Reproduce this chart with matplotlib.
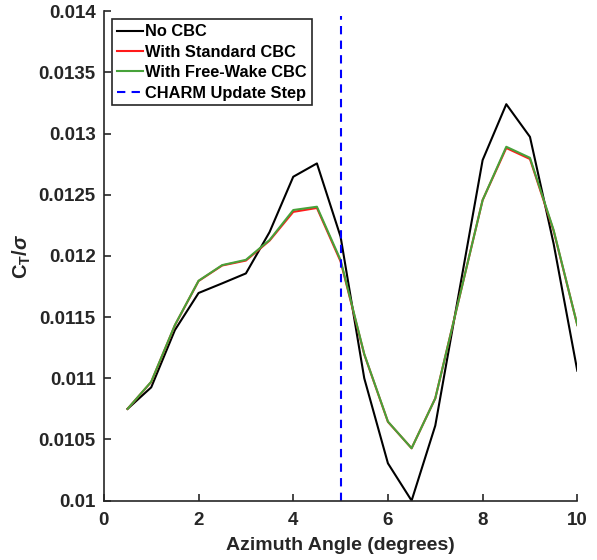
import matplotlib.pyplot as plt
import matplotlib.ticker as mticker

plt.rcParams['font.family'] = ['Liberation Sans', 'DejaVu Sans']
plt.rcParams['font.weight'] = 'bold'
plt.rcParams['mathtext.fontset'] = 'custom'
plt.rcParams['mathtext.rm'] = 'Liberation Sans:bold'
plt.rcParams['mathtext.bf'] = 'Liberation Sans:bold'
plt.rcParams['mathtext.it'] = 'Liberation Sans:italic'

# Azimuth angle (degrees)
azimuth = [0.5, 1.0, 1.5, 2.0, 2.5, 3.0, 3.5, 4.0, 4.5, 5.0,
           5.5, 6.0, 6.5, 7.0, 7.5, 8.0, 8.5, 9.0, 9.5, 10.0]

# CT/sigma values
no_cbc = [0.01075, 0.010926, 0.011394, 0.011697, 0.011776, 0.011857, 0.012195, 0.012647, 0.012756, 0.012157,
          0.011000, 0.010305, 0.010000, 0.010613, 0.011698, 0.012783, 0.013240, 0.012973, 0.012100, 0.011062]
standard_cbc = [0.01075, 0.010970, 0.011433, 0.011795, 0.011922, 0.011962, 0.012125, 0.012360, 0.012392, 0.011955,
                0.011195, 0.010644, 0.010428, 0.010836, 0.011646, 0.012456, 0.012882, 0.012792, 0.012205, 0.011435]
free_wake_cbc = [0.01075, 0.010972, 0.011435, 0.011797, 0.011925, 0.011968, 0.012130, 0.012375, 0.012402, 0.011966,
                 0.011198, 0.010646, 0.010428, 0.010836, 0.011646, 0.012456, 0.012892, 0.012802, 0.012211, 0.011435]
update_step = 5

fig = plt.figure(figsize=(5.97, 5.60), dpi=100)
ax = fig.add_axes([0.174, 0.106, 0.793, 0.874])

ax.plot(azimuth, no_cbc, color='k', lw=1.5, label='No CBC')
ax.plot(azimuth, standard_cbc, color='#ff1a1a', lw=1.5, label='With Standard CBC')
ax.plot(azimuth, free_wake_cbc, color='#47a23a', lw=1.5, label='With Free-Wake CBC')
ax.axvline(update_step, color='#0000ff', lw=1.5, ls=(0, (4, 3)), ymax=0.99, label='CHARM Update Step')

ax.set_xlim(0, 10)
ax.set_ylim(0.01, 0.014)
ax.set_xticks([0, 2, 4, 6, 8, 10])
ax.set_yticks([0.01, 0.0105, 0.011, 0.0115, 0.012, 0.0125, 0.013, 0.0135, 0.014])
ax.yaxis.set_major_formatter(mticker.FormatStrFormatter('%g'))

for s in ['top', 'right']:
    ax.spines[s].set_visible(False)
for s in ['left', 'bottom']:
    ax.spines[s].set_color('#262626')
    ax.spines[s].set_linewidth(1.2)
ax.tick_params(direction='in', length=5, width=1.2, colors='#262626', labelsize=13.5)
ax.tick_params(axis='x', pad=8)
ax.tick_params(axis='y', pad=6)

ax.set_xlabel('Azimuth Angle (degrees)', fontsize=14, fontweight='bold', color='#262626', labelpad=6)
ax.set_ylabel(r'C$_\mathrm{T}$/$\mathit{\sigma}$', fontsize=14.5, fontweight='bold', color='#262626', labelpad=4)

leg = ax.legend(loc='upper left', bbox_to_anchor=(0.01, 0.99), fontsize=11.8, handlelength=1.6,
                handletextpad=0.15, borderpad=0.3, labelspacing=0.33, borderaxespad=0.2,
                fancybox=False, framealpha=1)
leg.get_frame().set_edgecolor('#262626')
leg.get_frame().set_linewidth(1.2)

fig.savefig('out.png', dpi=100)
